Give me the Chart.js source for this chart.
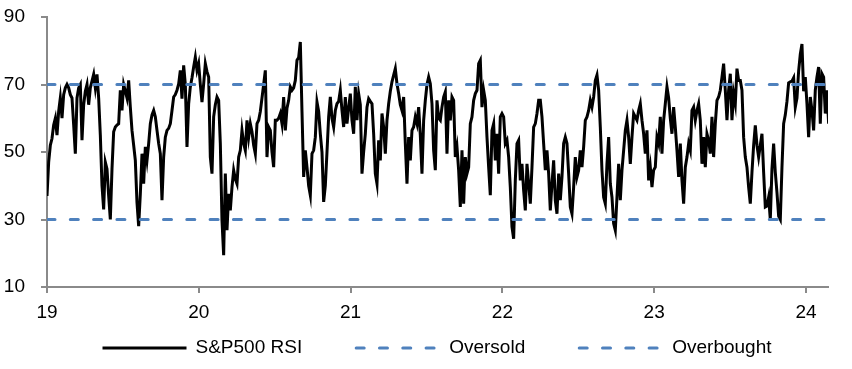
<!DOCTYPE html>
<html>
<head>
<meta charset="utf-8">
<script src="https://cdn.jsdelivr.net/npm/chart.js@4.4.1/dist/chart.umd.min.js"></script>
<style>
  html, body { margin: 0; padding: 0; background: #fff; }
  #wrap { width: 852px; height: 369px; }
</style>
</head>
<body>
<div id="wrap"><canvas id="myChart" width="852" height="369"></canvas></div>
<script>
// S&P500 RSI, roughly every 4 days from start of 2019
const firstYear = 19.0;
const stepYears = 0.010979;
const rsi = [
  37, 47, 52, 54, 58, 60, 55, 62, 66, 60,
  67, 69, 70, 69, 67, 66, 58, 49.5, 66, 69,
  70, 53.5, 64, 68, 70, 64, 69, 71, 73, 69,
  73, 66, 55, 40, 33, 47, 45, 37, 30, 45,
  56, 57.4, 58, 58.4, 68.3, 62.3, 70, 68, 66, 71.2,
  63.3, 56.4, 52, 47.5, 35, 28,
  37.6, 49.5, 40.6, 51.5, 47.5, 52.5, 58.4, 61, 62.3, 60.4,
  56.4, 52.5, 49.5, 35.7, 48.5, 54.4, 56.4, 57, 58.4, 62.3,
  66.3, 67, 68.3, 70.2, 74.2, 65.8, 75.7, 70, 51.5, 64.3,
  69.3, 72, 75.2, 78.1, 74.2, 76.2, 70, 64.8, 70.2, 76.2,
  73.8, 72.2, 48.5, 43.6, 60.4, 64, 66.3, 65.3, 52.5, 29.7,
  19.4, 43.6, 26.8, 37.6, 32.7, 39.6, 44.6, 42, 40.6, 48.5,
  50.5, 56.4, 52.5, 50.5, 59.4, 54.4, 58.4, 56, 52, 49.5,
  58.4, 59.4, 62, 66, 70, 74.2, 48.5, 57.4, 56.4, 50,
  45.5, 59.4, 59.4, 60, 61.4, 58.4, 66.3, 56.4, 63, 65.3,
  69.3, 68.3, 69, 71.2, 77.2, 78, 82.6, 62, 42.6, 50.5,
  45.5, 40, 37.2, 49.5, 50.5, 54.4, 64.8, 62, 55.4, 50,
  35.2, 40, 50, 60.4, 66.3, 60, 57.4, 62.3, 64.3, 65,
  68.3, 62.3, 57.4, 66.3, 58.4, 63, 67.3, 59.4, 55.4, 69.3,
  59.4, 67.3, 64, 43.6, 50, 55.4, 63.3, 65.8, 65, 64.3,
  55.4, 43.6, 40.6, 53.5, 47.5, 61.4, 57.4, 49.5, 59.4, 64.3,
  68, 70.8, 72.8, 74.7, 70.2, 67.3, 64, 62.3, 66.3, 52.5,
  40.6, 54.4, 47.5, 56.4, 57.4, 60.4, 58.4, 63.3, 55, 43.6,
  59.4, 65.3, 70, 72.2, 70.2, 64.3, 50.5, 44.6, 65.3, 60,
  59.4, 63.3, 66.3, 67.8, 49.5, 65.3, 59.4, 66.3, 65.3, 48.5,
  51.5, 44.6, 33.7, 50.5, 34.7, 48.5, 43.6, 45.5, 58.4, 60.4,
  65.3, 67.3, 68.3, 76.2, 77.2, 63.3, 68.3, 65.3, 54.4, 45.5,
  37.2, 56.4, 58.4, 47.5, 55.4, 43.6, 60.4, 61.4, 60.4, 52.5,
  53.5, 48.5, 39.6, 27.8, 24.3, 41.6, 52.5, 53.5, 41.6, 46.5,
  38.6, 32.7, 46.5, 40.6, 34.7, 45.5, 57.4, 58.4, 61.4, 65.3,
  65.3, 60.4, 52.5, 44.6, 50.5, 43.6, 32.7, 40.6, 47.5, 35.7,
  31.7, 43.6, 35.7, 42.6, 52.5, 54.4, 52.5, 43.6, 33.7, 31.7,
  39.6, 48.5, 42.6, 44.6, 50.5, 45.5, 51.5, 59.4, 60.4, 62.3,
  65.3, 63.3, 66.3, 71.2, 72.8, 68.3, 57.4, 44.6, 36.6, 34.7,
  46.5, 54.4, 40.6, 36.6, 28.8, 26.8, 36.6, 46.5, 35.7, 44.6,
  50.5, 56.4, 59.4, 54.4, 46.5, 54.4, 61.4, 60.4, 59.4, 62.3,
  64.3, 59.4, 55.4, 49.5, 56.4, 41.6, 45.5, 39.6, 44.6, 45.5,
  54.4, 52.5, 60.4, 49.5, 59.4, 64.3, 69.3, 66, 60, 55.4,
  63.3, 57.4, 50.5, 42.6, 52.5, 41.6, 34.7, 45.5, 48.5, 52.5,
  50.5, 62.3, 63.3, 59.4, 62.3, 64.3, 59.4, 46.5, 54.4, 45.5,
  55.4, 53.5, 49.5, 60.4, 48.5, 58.4, 65.3, 66.3, 68.3, 72.2,
  76.2, 68.3, 59.4, 68.3, 73.2, 59.4, 67.3, 64.3, 74.7, 71.2,
  71.2, 68.3, 54.4, 48.5, 45.5, 39.6, 34.7, 44, 52, 57.9,
  52, 48.5, 52, 55.4, 44, 33.7, 34, 36.6, 30, 45,
  52.5, 44, 38, 31, 30, 45.5, 58.4, 61, 65, 70.5,
  70.8, 71, 72, 63.3, 66, 74, 79, 82, 68, 72.2,
  64.3, 54.4, 66.3, 62.3, 56.4, 68.3, 72.2, 75.2, 58.4, 73.2,
  72.2, 61.4, 68.3, 58.4, 66.3
];
const oversoldLevel = 30;
const overboughtLevel = 70;
const yTicks = [10, 30, 50, 70, 90];
const xTicks = [19, 20, 21, 22, 23, 24];
const xEnd = 24.145;

const FONT_FAMILY = '"Liberation Sans", Arial, sans-serif';
const FONT_SIZE = 19;
const BLUE = '#4F81BD';
const AXIS = '#8a8a8a';

const rsiPoints = rsi.map((v, i) => ({ x: firstYear + i * stepYears, y: v }));
const flat = level => [{ x: firstYear, y: level }, { x: xEnd, y: level }];

// legend drawn by hand so the spacing matches the original
const bottomLegend = {
  id: 'bottomLegend',
  afterDraw(chart) {
    const ctx = chart.ctx;
    const sample = 86, gap = 9, spacing = 52, cy = 348;
    ctx.save();
    ctx.font = FONT_SIZE + 'px ' + FONT_FAMILY;
    const items = chart.data.datasets.map(ds => ({
      ds: ds,
      w: sample + gap + ctx.measureText(ds.label).width
    }));
    const total = items.reduce((s, it) => s + it.w, 0) + spacing * (items.length - 1);
    let x = 436 - total / 2;
    items.forEach(it => {
      ctx.beginPath();
      ctx.strokeStyle = it.ds.borderColor;
      ctx.lineWidth = it.ds.borderWidth;
      ctx.lineCap = it.ds.borderDash ? 'round' : 'butt';
      ctx.setLineDash(it.ds.borderDash || []);
      ctx.moveTo(x + 2, cy);
      ctx.lineTo(x + sample, cy);
      ctx.stroke();
      ctx.setLineDash([]);
      ctx.fillStyle = '#000';
      ctx.textBaseline = 'middle';
      ctx.textAlign = 'left';
      ctx.fillText(it.ds.label, x + sample + gap, cy);
      x += it.w + spacing;
    });
    ctx.restore();
  }
};

const data = {
  datasets: [{
    label: 'S&P500 RSI',
    data: rsiPoints,
    borderColor: '#000',
    borderWidth: 3,
    pointRadius: 0,
    tension: 0,
    order: 1
  }, {
    label: 'Oversold',
    data: flat(oversoldLevel),
    borderColor: BLUE,
    borderWidth: 3,
    borderDash: [8, 15.3],
    borderCapStyle: 'round',
    pointRadius: 0,
    order: 0
  }, {
    label: 'Overbought',
    data: flat(overboughtLevel),
    borderColor: BLUE,
    borderWidth: 3,
    borderDash: [8, 15.3],
    borderCapStyle: 'round',
    pointRadius: 0,
    order: 0
  }]
};

const config = {
  type: 'line',
  data: data,
  options: {
    responsive: false,
    animation: false,
    layout: { padding: { top: 17, right: 24, left: 0, bottom: 40 } },
    plugins: {
      legend: { display: false },
      tooltip: { enabled: false }
    },
    scales: {
      x: {
        type: 'linear',
        min: firstYear,
        max: xEnd,
        afterBuildTicks: s => { s.ticks = xTicks.map(v => ({ value: v })); },
        afterFit: s => { s.height = 369 - 287 - 40; s.paddingLeft = 0; s.paddingRight = 0; },
        ticks: {
          color: '#000',
          font: { family: FONT_FAMILY, size: FONT_SIZE },
          padding: 8,
          maxRotation: 0,
          callback: v => String(v)
        },
        grid: { drawOnChartArea: false, drawTicks: true, tickLength: 6, color: AXIS, lineWidth: 2 },
        border: { color: AXIS, width: 2 }
      },
      y: {
        min: 10,
        max: 90,
        afterBuildTicks: s => { s.ticks = yTicks.map(v => ({ value: v })); },
        afterFit: s => { s.width = 47; s.paddingTop = 0; s.paddingBottom = 0; },
        ticks: {
          color: '#000',
          font: { family: FONT_FAMILY, size: FONT_SIZE },
          padding: 16
        },
        grid: { drawOnChartArea: false, drawTicks: true, tickLength: 6, color: AXIS, lineWidth: 2 },
        border: { color: AXIS, width: 2 }
      }
    }
  },
  plugins: [bottomLegend]
};

const ctx = document.getElementById('myChart');
new Chart(ctx, config);
</script>
</body>
</html>
